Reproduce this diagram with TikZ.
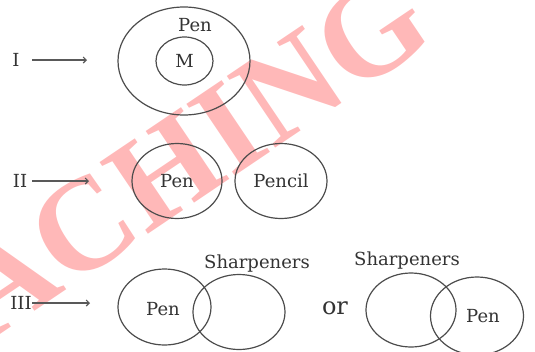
\documentclass[tikz,border=0pt]{standalone}
\usepackage{fontspec}
\setmainfont{DejaVu Serif}
\newfontfamily\wmfont{Liberation Serif}
\usetikzlibrary{arrows.meta,shapes.geometric}
\begin{document}
\begin{tikzpicture}[x=1pt,y=-1pt,
  setell/.style={draw=black!70, line width=1.2pt, ellipse, inner sep=0pt},
  lbl/.style={font=\fontsize{18}{18}\selectfont, text=black!80, inner sep=0pt},
  roman/.style={font=\fontsize{18}{18}\selectfont, text=black!80, inner sep=0pt},
  arr/.style={draw=black!65, line width=1.1pt, -{Straight Barb[length=3pt,width=6pt]}},
  wm/.style={font=\wmfont\bfseries\fontsize{132}{132}\selectfont, text=red!28, inner sep=0pt}]
\useasboundingbox (0,0) rectangle (535,351);
% watermark
\node[wm, rotate=34] (wmark) at (189,155) {ACHING};
% ---- I ----
\node[roman] (lI) at (16,60) {I};
\coordinate (sI) at (32,60);
\coordinate (eI) at (87,60);
\draw[arr] (sI) -- (eI);
\node[setell, minimum width=132pt, minimum height=108pt] (penI) at (184,61) {};
\node[lbl] (penIt) at (195,25) {Pen};
\node[setell, minimum width=57pt, minimum height=48pt, lbl] (mI) at (184.5,61) {M};
% ---- II ----
\node[roman] (lII) at (20,181) {II};
\coordinate (sII) at (32,181);
\coordinate (eII) at (89,181);
\draw[arr] (sII) -- (eII);
\node[setell, minimum width=90pt, minimum height=75pt] (penII) at (177,181) {};
\node[lbl] at (penII) {Pen};
\node[setell, minimum width=92pt, minimum height=75pt] (pencil) at (281,181) {};
\node[lbl] at (pencil) {Pencil};
% ---- III ----
\node[roman] (lIII) at (21,303) {III};
\coordinate (sIII) at (32,303);
\coordinate (eIII) at (90,303);
\draw[arr] (sIII) -- (eIII);
\node[setell, minimum width=93pt, minimum height=76pt] (penIII) at (164.5,307) {};
\node[lbl] at (163,309) {Pen};
\node[setell, minimum width=92pt, minimum height=75pt] (sharpA) at (239,312) {};
\node[lbl] at (257,264) {Sharpeners};
\node[font=\fontsize{24}{24}\selectfont, text=black!80, inner sep=0pt] (or) at (335,308) {or};
\node[setell, minimum width=90pt, minimum height=74pt] (sharpB) at (411,310) {};
\node[lbl] at (407,261) {Sharpeners};
\node[setell, minimum width=93pt, minimum height=78pt] (penIV) at (477,316) {};
\node[lbl] at (483,316) {Pen};
\end{tikzpicture}
\end{document}
